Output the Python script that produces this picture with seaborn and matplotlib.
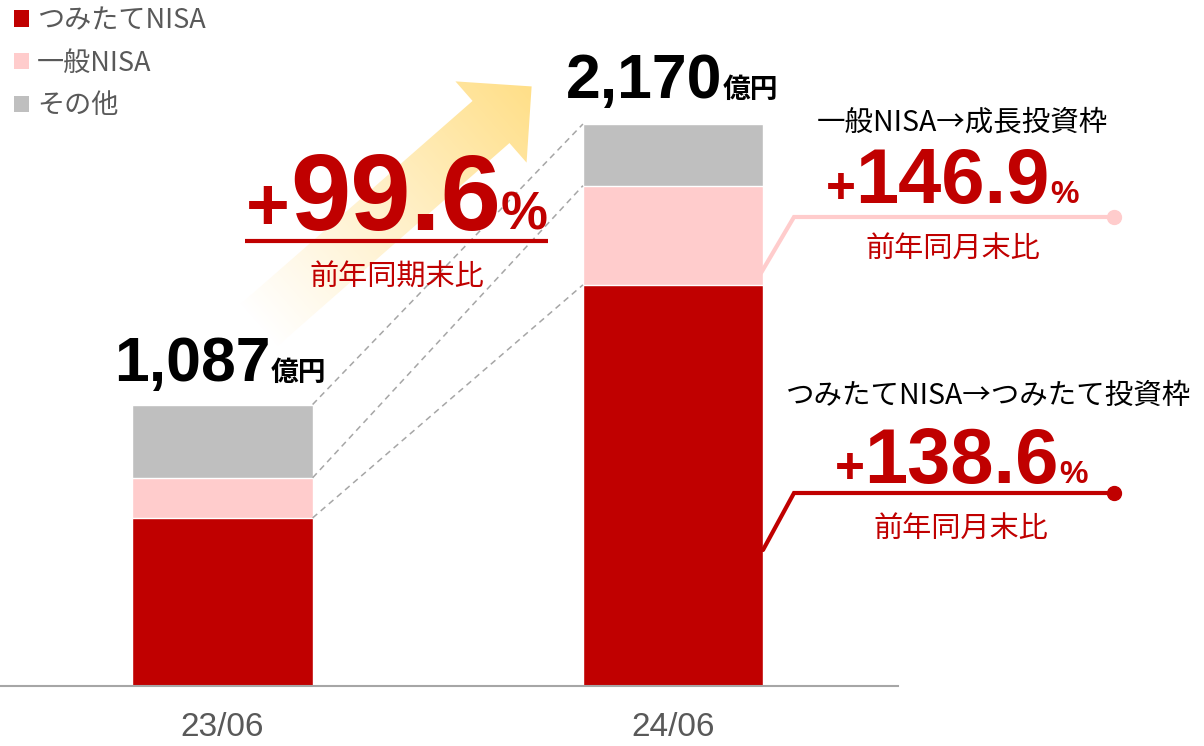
import numpy as np
import pandas as pd
import matplotlib
matplotlib.use("Agg")
import matplotlib.pyplot as plt
import seaborn as sns
from matplotlib.patches import Patch, Polygon
from matplotlib.colors import LinearSegmentedColormap

# values (億円)
periods = ["23/06", "24/06"]
tsumitate = [649, 1549]
ippan = [155, 383]
other = [283, 238]
total_labels = ["1,087", "2,170"]
series_names = ["つみたてNISA", "一般NISA", "その他"]
series_colors = ["#C00000", "#FFCCCC", "#BFBFBF"]
growth_total = "99.6"
growth_ippan = "146.9"
growth_tsumitate = "138.6"

RED = "#C00000"
GREY_TXT = "#595959"
W, H = 1204, 746
NUM = ["Liberation Sans", "DejaVu Sans"]
JP = ["Noto Sans CJK JP", "DejaVu Sans"]

sns.set_theme(style="white")
plt.rcParams["font.family"] = JP

df = pd.DataFrame({"period": periods, "tsumitate": tsumitate, "ippan": ippan, "other": other})
df["lvl2"] = df["tsumitate"] + df["ippan"]
df["lvl3"] = df["lvl2"] + df["other"]

fig = plt.figure(figsize=(W / 100, H / 100), dpi=100)
ax = fig.add_axes([0, 60 / H, 898 / W, 686 / H])

# stacked bars drawn as overlapping cumulative bars
for col, c in zip(["lvl3", "lvl2", "tsumitate"], series_colors[::-1]):
    sns.barplot(data=df, x="period", y=col, color=c, width=0.4, saturation=1,
                edgecolor="white", linewidth=1, ax=ax)

# dashed connectors between the segment tops
for col in ["lvl3", "lvl2", "tsumitate"]:
    ax.plot([0.2, 0.8], [df[col][0], df[col][1]], ls=(0, (4, 3)), color="#A6A6A6", lw=1.1, zorder=1)

ax.set_xlim(-0.4939, 1.4994)
ax.set_ylim(0, 2649)
ax.set_xlabel("")
ax.set_ylabel("")
ax.set_yticks([])
sns.despine(ax=ax, left=True)
ax.spines["bottom"].set_color("#A6A6A6")
ax.spines["bottom"].set_linewidth(1.5)
ax.tick_params(axis="x", length=0, pad=19, labelsize=24, labelcolor=GREY_TXT)
for t in ax.get_xticklabels():
    t.set_family(NUM)

# overlay in pixel coordinates for annotations
ov = fig.add_axes([0, 0, 1, 1], zorder=5)
ov.set_xlim(0, W)
ov.set_ylim(H, 0)
ov.axis("off")

# gradient arrow
T = np.array([258.0, 326.0])
Hd = np.array([491.0, 122.0])
u = (Hd - T) / np.linalg.norm(Hd - T)
n = np.array([-u[1], u[0]])
tip = Hd + 54 * u
pts = [T - 28 * n, Hd - 28 * n, Hd - 54 * n, tip, Hd + 54 * n, Hd + 28 * n, T + 28 * n]
poly = Polygon(pts, closed=True, facecolor="none", edgecolor="none")
ov.add_patch(poly)
xx, yy = np.meshgrid(np.arange(200, 560), np.arange(60, 360))
tt = ((xx - T[0]) * u[0] + (yy - T[1]) * u[1]) / np.linalg.norm(tip - T)
cmap = LinearSegmentedColormap.from_list("arw", ["#FFFFFF", "#FFF0C8", "#FFDF88"])
im = ov.imshow(np.clip(tt, 0, 1), cmap=cmap, vmin=0, vmax=1, extent=(200, 560, 360, 60),
               origin="upper", aspect="auto", interpolation="bilinear", zorder=1)
im.set_clip_path(poly)
ov.set_xlim(0, W)
ov.set_ylim(H, 0)

renderer = fig.canvas.get_renderer()


def run(xc, baseline, parts):
    objs = []
    for s, size, fam, weight, color in parts:
        objs.append(ov.text(0, baseline, s, fontsize=size, family=fam, weight=weight,
                            color=color, ha="left", va="baseline", zorder=4))
    widths = [o.get_window_extent(renderer).width for o in objs]
    x = xc - sum(widths) / 2
    for o, w in zip(objs, widths):
        o.set_x(x)
        x += w


# totals
run(220, 381, [(total_labels[0], 45, NUM, "bold", "black"), ("億円", 20, JP, "bold", "black")])
run(672, 98, [(total_labels[1], 45, NUM, "bold", "black"), ("億円", 20, JP, "bold", "black")])

# overall growth
run(397, 230, [("+", 54, NUM, "bold", RED), (growth_total, 78, NUM, "bold", RED), ("%", 38, NUM, "bold", RED)])
ov.plot([245, 548], [241, 241], color=RED, lw=3, solid_capstyle="butt", zorder=4)
ov.text(397, 286, "前年同期末比", fontsize=21, family=JP, color=RED, ha="center", va="baseline", zorder=4)

# 一般NISA
ov.text(962, 130, "一般NISA→成長投資枠", fontsize=20.5, family=JP, color="black", ha="center", va="baseline")
run(952, 203, [("+", 37, NUM, "bold", RED), (growth_ippan, 56, NUM, "bold", RED), ("%", 23, NUM, "bold", RED)])
ov.plot([761, 794, 1114], [273, 217, 217], color="#FFCCCC", lw=3, solid_joinstyle="miter", zorder=3)
ov.plot([1114], [217], "o", color="#FFCCCC", ms=10, zorder=3)
ov.text(953, 257, "前年同月末比", fontsize=21, family=JP, color=RED, ha="center", va="baseline")

# つみたてNISA
ov.text(989, 404, "つみたてNISA→つみたて投資枠", fontsize=20.5, family=JP, color="black", ha="center", va="baseline")
run(961, 483, [("+", 37, NUM, "bold", RED), (growth_tsumitate, 56, NUM, "bold", RED), ("%", 23, NUM, "bold", RED)])
ov.plot([763, 794, 1114], [550, 493, 493], color=RED, lw=3, solid_joinstyle="miter", zorder=3)
ov.plot([1114], [493], "o", color=RED, ms=10, zorder=3)
ov.text(961, 537, "前年同月末比", fontsize=21, family=JP, color=RED, ha="center", va="baseline")

# legend
handles = [Patch(facecolor=c, edgecolor="none") for c in series_colors]
leg = fig.legend(handles, series_names, loc="upper left", bbox_to_anchor=(14 / W, 1 - 7 / H),
                 frameon=False, fontsize=19.5, handlelength=0.55, handleheight=0.55,
                 handletextpad=0.3, labelspacing=0.58, borderpad=0, borderaxespad=0)
for t in leg.get_texts():
    t.set_color(GREY_TXT)

fig.savefig("out.png", dpi=100)
